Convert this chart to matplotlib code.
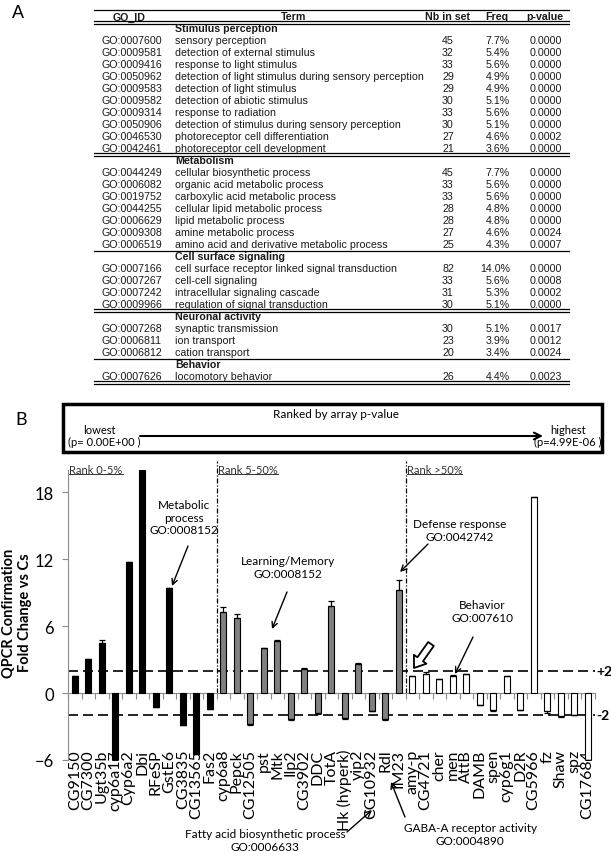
import matplotlib.pyplot as plt
import numpy as np
from matplotlib.lines import Line2D
from matplotlib.patches import Rectangle
from matplotlib.transforms import IdentityTransform

W, H = 611, 853

# ---------------- panel A: GO table ----------------
group_names = ['Stimulus perception', 'Metabolism', 'Cell surface signaling',
               'Neuronal activity', 'Behavior']
group_rules = ['double', 'single', 'double', 'single', 'double']

stim_ids = ['GO:0007600', 'GO:0009581', 'GO:0009416', 'GO:0050962', 'GO:0009583',
            'GO:0009582', 'GO:0009314', 'GO:0050906', 'GO:0046530', 'GO:0042461']
stim_terms = ['sensory perception', 'detection of external stimulus',
              'response to light stimulus',
              'detection of light stimulus during sensory perception',
              'detection of light stimulus', 'detection of abiotic stimulus',
              'response to radiation', 'detection of stimulus during sensory perception',
              'photoreceptor cell differentiation', 'photoreceptor cell development']
stim_nb = [45, 32, 33, 29, 29, 30, 33, 30, 27, 21]
stim_freq = ['7.7%', '5.4%', '5.6%', '4.9%', '4.9%', '5.1%', '5.6%', '5.1%', '4.6%', '3.6%']
stim_p = ['0.0000', '0.0000', '0.0000', '0.0000', '0.0000', '0.0000', '0.0000',
          '0.0000', '0.0002', '0.0000']

meta_ids = ['GO:0044249', 'GO:0006082', 'GO:0019752', 'GO:0044255', 'GO:0006629',
            'GO:0009308', 'GO:0006519']
meta_terms = ['cellular biosynthetic process', 'organic acid metabolic process',
              'carboxylic acid metabolic process', 'cellular lipid metabolic process',
              'lipid metabolic process', 'amine metabolic process',
              'amino acid and derivative metabolic process']
meta_nb = [45, 33, 33, 28, 28, 27, 25]
meta_freq = ['7.7%', '5.6%', '5.6%', '4.8%', '4.8%', '4.6%', '4.3%']
meta_p = ['0.0000', '0.0000', '0.0000', '0.0000', '0.0000', '0.0024', '0.0007']

sig_ids = ['GO:0007166', 'GO:0007267', 'GO:0007242', 'GO:0009966']
sig_terms = ['cell surface receptor linked signal transduction', 'cell-cell signaling',
             'intracellular signaling cascade', 'regulation of signal transduction']
sig_nb = [82, 33, 31, 30]
sig_freq = ['14.0%', '5.6%', '5.3%', '5.1%']
sig_p = ['0.0000', '0.0008', '0.0002', '0.0000']

neu_ids = ['GO:0007268', 'GO:0006811', 'GO:0006812']
neu_terms = ['synaptic transmission', 'ion transport', 'cation transport']
neu_nb = [30, 23, 20]
neu_freq = ['5.1%', '3.9%', '3.4%']
neu_p = ['0.0017', '0.0012', '0.0024']

beh_ids = ['GO:0007626']
beh_terms = ['locomotory behavior']
beh_nb = [26]
beh_freq = ['4.4%']
beh_p = ['0.0023']

# ---------------- panel B: QPCR bars ----------------
genes = ['CG9150', 'CG7300', 'Ugt35b', 'cyp6a17', 'Cyp6a2', 'Dbi', 'RFeSP', 'GstE6',
         'CG3835', 'CG13565', 'Fas2',
         'cyp6a8', 'Pepck', 'CG12505', 'pst', 'Mtk', 'Ilp2', 'CG3902', 'DDC', 'TotA',
         'Hk (hyperk)', 'yip2', 'CG10932', 'Rdl', 'IM23',
         'amy-p', 'CG4721', 'cher', 'men', 'AttB', 'DAMB', 'spen', 'cyp6g1', 'D2R',
         'CG5966', 'fz', 'Shaw', 'spz', 'CG17684']
fold = [1.55, 3.1, 4.5, -6.0, 11.75, 20.0, -1.25, 9.4, -2.85, -5.5, -1.4,
        7.25, 6.7, -2.8, 4.0, 4.7, -2.3, 2.15, -1.8, 7.8, -2.2, 2.6, -1.6, -2.3, 9.2,
        1.5, 1.7, 1.25, 1.5, 1.7, -1.1, -1.55, 1.55, -1.5, 17.6, -1.65, -2.05, -2.0, -6.0]
fold_err = [0, 0, 0.25, 0, 0, 0, 0, 0, 0, 0, 0,
            0.5, 0.35, 0.05, 0.05, 0.05, 0.15, 0.1, 0.05, 0.5, 0.1, 0.1, 0.05, 0.1, 0.9,
            0, 0.15, 0, 0.1, 0, 0, 0.1, 0, 0.05, 0, 0.1, 0.1, 0, 0]
group_sizes = [11, 14, 14]
group_colors = ['#000000', '#808080', '#ffffff']
rank_labels = ['Rank 0-5%', 'Rank 5-50%', 'Rank >50%']


def fx(x):
    return x / W


def fy(y):
    return 1 - y / H


fig = plt.figure(figsize=(W / 100, H / 100), dpi=100)

# ---- table ----
tf = dict(family='Liberation Sans', fontsize=7.7, va='center', color='#1a1a1a')
y0, row_h = 17.5, 12.0
t_left, t_right = 94, 569


def rule(y, kind):
    ys = [y - 1.1, y + 1.1] if kind == 'double' else [y]
    for yy in ys:
        fig.add_artist(Line2D([fx(t_left), fx(t_right)], [fy(yy), fy(yy)],
                              color='black', lw=0.9, transform=fig.transFigure))


fig.text(fx(12), fy(14), 'A', family='Liberation Sans', fontsize=13, va='center')
rule(y0 - 7, 'single')
fig.text(fx(129), fy(y0), 'GO_ID', ha='center', weight='bold', **tf)
fig.text(fx(294), fy(y0), 'Term', ha='center', weight='bold', **tf)
fig.text(fx(448), fy(y0), 'Nb in set', ha='center', weight='bold', **tf)
fig.text(fx(497), fy(y0), 'Freq', ha='center', weight='bold', **tf)
fig.text(fx(545), fy(y0), 'p-value', ha='center', weight='bold', **tf)
rule(y0 + 0.5 * row_h, 'double')

groups = [(stim_ids, stim_terms, stim_nb, stim_freq, stim_p),
          (meta_ids, meta_terms, meta_nb, meta_freq, meta_p),
          (sig_ids, sig_terms, sig_nb, sig_freq, sig_p),
          (neu_ids, neu_terms, neu_nb, neu_freq, neu_p),
          (beh_ids, beh_terms, beh_nb, beh_freq, beh_p)]
r = 1
for name, kind, (ids, terms, nbs, freqs, ps) in zip(group_names, group_rules, groups):
    fig.text(fx(175), fy(y0 + r * row_h), name, weight='bold', **tf)
    r += 1
    for gid, term, nb, fr, p in zip(ids, terms, nbs, freqs, ps):
        ty = fy(y0 + r * row_h)
        fig.text(fx(101), ty, gid, **tf)
        fig.text(fx(175), ty, term, **tf)
        fig.text(fx(448), ty, str(nb), ha='center', **tf)
        fig.text(fx(510), ty, fr, ha='right', **tf)
        fig.text(fx(546), ty, p, ha='center', **tf)
        r += 1
    rule(y0 + (r - 0.5) * row_h, kind)

# ---- ranking box ----
bf = dict(family='Lato', fontsize=8, ha='center', va='center')
fig.text(fx(15), fy(420), 'B', family='Lato', fontsize=13, va='center')
fig.add_artist(Rectangle((fx(63), fy(453)), (602 - 63) / W, 48 / H, fill=False,
                         ec='black', lw=2.5, transform=fig.transFigure))
fig.text(fx(336), fy(414), 'Ranked by array p-value', fontsize=8.5,
         **{k: v for k, v in bf.items() if k != 'fontsize'})
fig.text(fx(99), fy(430), 'lowest', **bf)
fig.text(fx(104), fy(442), '(p= 0.00E+00 )', **bf)
fig.text(fx(568), fy(430), 'highest', **bf)
fig.text(fx(568), fy(442), '(p=4.99E-06 )', **bf)
fig.add_artist(plt.Annotation('', xy=(fx(543), fy(437)), xytext=(fx(140), fy(437)),
                              xycoords='figure fraction', textcoords='figure fraction',
                              arrowprops=dict(arrowstyle='->', lw=1.5, color='black',
                                              mutation_scale=12, shrinkA=0, shrinkB=0)))

# ---- bar chart ----
ax = fig.add_axes([68 / W, 1 - 761 / H, 526.5 / W, 290 / H])
x = np.arange(len(genes))
vals = np.array(fold)
err = np.array(fold_err)
colors = []
for c, n in zip(group_colors, group_sizes):
    colors += [c] * n

ax.bar(x, vals, width=0.45, color=colors, edgecolor='black', linewidth=0.8, zorder=3)
lower = np.where(vals < 0, err, 0)
upper = np.where(vals >= 0, err, 0)
ax.errorbar(x, vals, yerr=[lower, upper], fmt='none', ecolor='black',
            elinewidth=0.9, capsize=2, capthick=0.9, zorder=4)

ax.set_xlim(-0.5, len(genes) - 0.5)
ax.set_ylim(-6, 20)
ax.set_yticks([-6, 0, 6, 12, 18])
ax.set_xticks(np.arange(len(genes) + 1) - 0.5)
ax.tick_params(axis='x', labelbottom=False, length=4, color='#8c8c8c', direction='out')
ax.tick_params(axis='y', length=4, color='#8c8c8c', pad=6, labelsize=12)
for lab in ax.get_yticklabels():
    lab.set_family('Lato')
for s in ['top', 'right']:
    ax.spines[s].set_visible(False)
ax.spines['bottom'].set_position(('data', 0))
ax.spines['bottom'].set_color('#8c8c8c')
ax.spines['left'].set_color('#8c8c8c')
ax.patch.set_alpha(0)

for i, g in enumerate(genes):
    ax.text(i, -5.0, g, rotation=90, ha='center', va='top', fontsize=11.5,
            family='Lato', zorder=1)

for lev, lab in [(2, '+2'), (-2, '-2')]:
    ax.axhline(lev, color='black', lw=1.2, ls=(0, (6, 3)), zorder=2)
    ax.text(1.004, lev, lab, transform=ax.get_yaxis_transform(), ha='left',
            va='center', fontsize=10, weight='bold', family='Lato')

bounds = np.cumsum(group_sizes)[:-1] - 0.5
for b in bounds:
    ax.plot([b, b], [0, 20.8], color='black', lw=0.9, ls=(0, (4, 1.5, 1, 1.5)),
            clip_on=False, zorder=2)

rank_x = [-0.4] + list(bounds + 0.1)
rank_texts = []
for rx, lab in zip(rank_x, rank_labels):
    rank_texts.append(ax.text(rx, 20.05, lab, ha='left', va='center', fontsize=8,
                              family='Lato', color='#333333'))

fig.text(fx(17), fy(613), 'QPCR Confirmation\nFold Change vs Cs', rotation=90,
         ha='center', va='center', fontsize=10.5, weight='bold', family='Lato',
         multialignment='center')

# ---- annotations ----
af = dict(family='Lato', fontsize=8.5, ha='center', va='center', linespacing=1.15)
notes = [('Metabolic\nprocess\nGO:0008152', (184, 518), (188, 547), (172, 587)),
         ('Learning/Memory\nGO:0008152', (288, 568), (287, 593), (272, 630)),
         ('Defense response\nGO:0042742', (460, 531), (428, 545), (400, 573)),
         ('Behavior\nGO:007610', (482, 612), (473, 638), (455, 675)),
         ('Fatty acid biosynthetic process\nGO:0006633', (265, 841), (347, 833), (372, 811)),
         ('GABA-A receptor activity\nGO:0004890', (470, 835), (405, 818), (391, 783))]
for txt, tp, a0, a1 in notes:
    fig.text(fx(tp[0]), fy(tp[1]), txt, **af)
    fig.add_artist(plt.Annotation('', xy=(fx(a1[0]), fy(a1[1])),
                                  xytext=(fx(a0[0]), fy(a0[1])),
                                  xycoords='figure fraction', textcoords='figure fraction',
                                  arrowprops=dict(arrowstyle='->', lw=1.0, color='black',
                                                  mutation_scale=10, shrinkA=0, shrinkB=0)))

fig.add_artist(plt.Annotation('', xy=(fx(414), fy(669)), xytext=(fx(431), fy(645)),
                              xycoords='figure fraction', textcoords='figure fraction',
                              arrowprops=dict(arrowstyle='simple,head_length=0.7,head_width=1.0,tail_width=0.45',
                                              fc='white', ec='black', lw=1.3,
                                              mutation_scale=11, shrinkA=0, shrinkB=0)))

# underline the rank labels
fig.canvas.draw()
for t in rank_texts:
    bb = t.get_window_extent()
    fig.add_artist(Line2D([bb.x0, bb.x1], [bb.y0 + 0.5, bb.y0 + 0.5], color='#333333',
                          lw=0.7, transform=IdentityTransform()))

fig.savefig('out.png', dpi=100)
